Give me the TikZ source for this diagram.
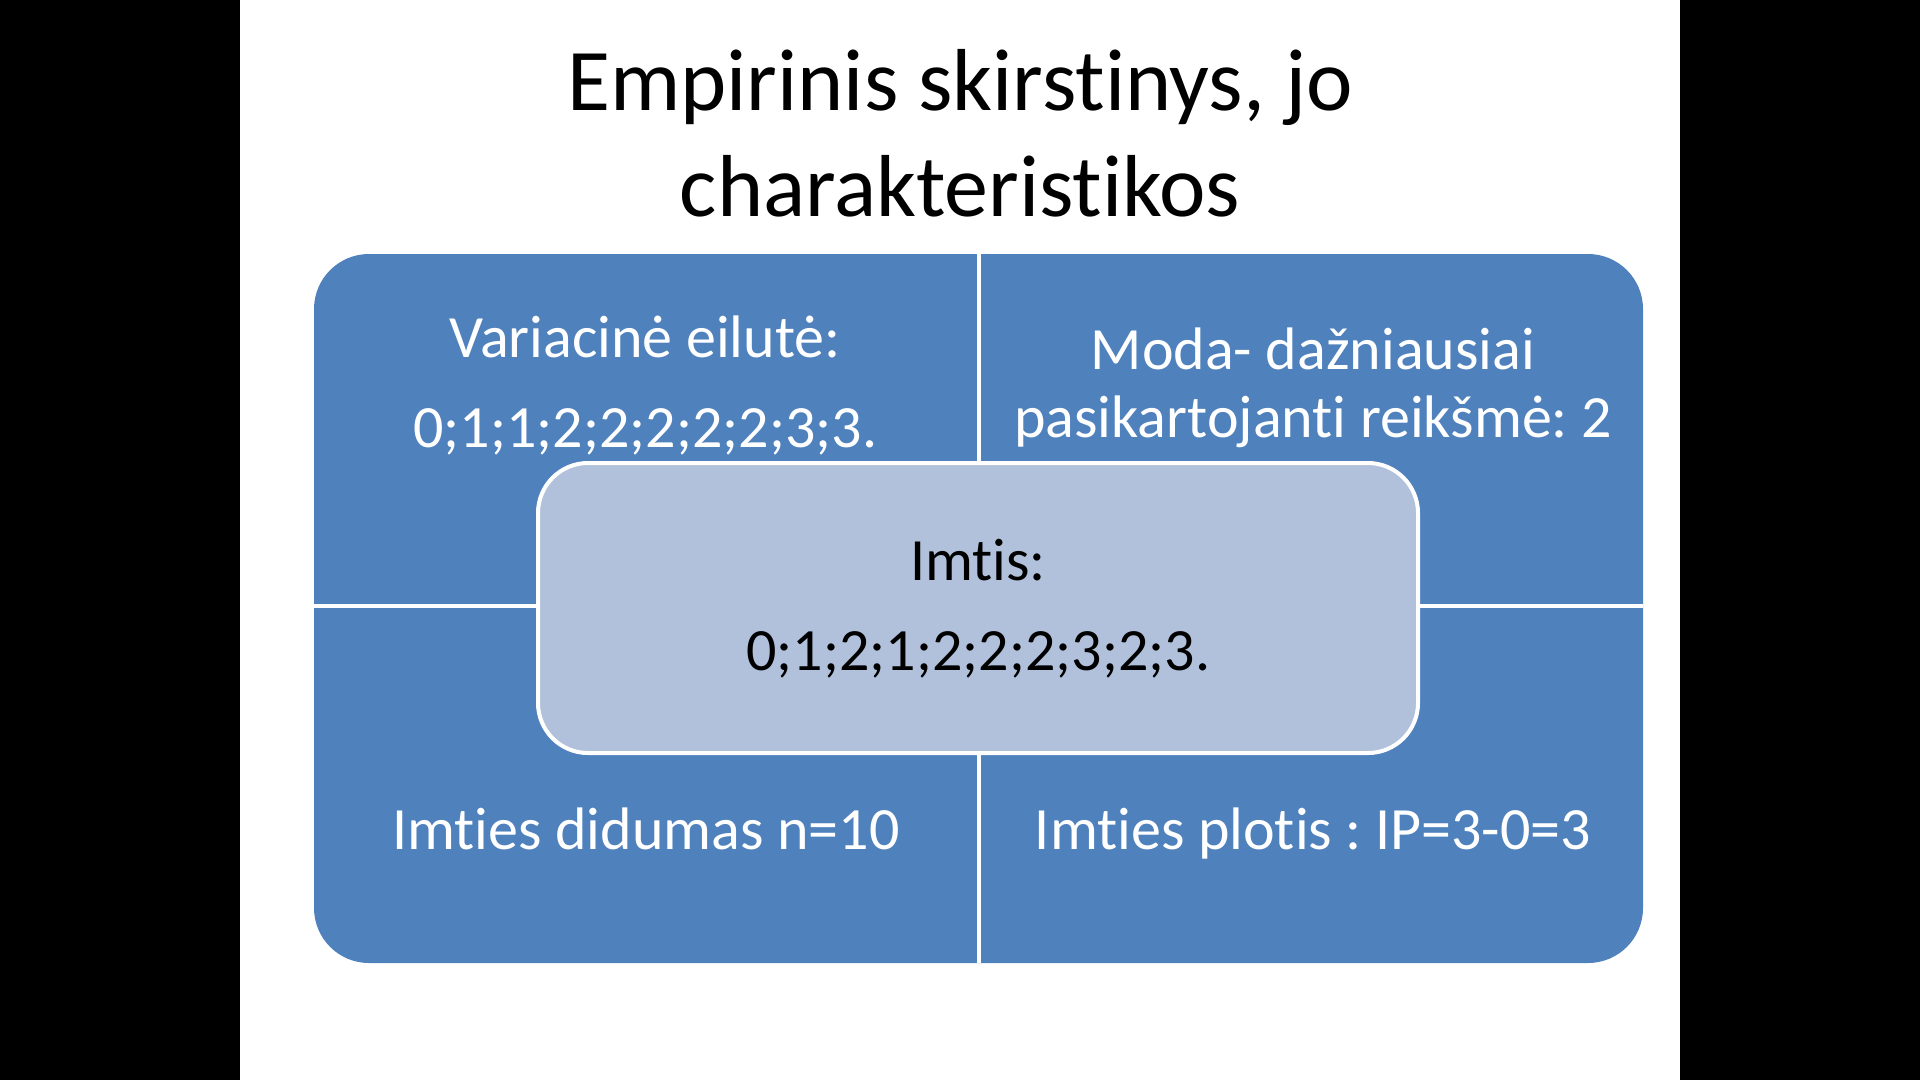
\documentclass[tikz,border=0pt]{standalone}
\usepackage{fontspec}
\setmainfont{Carlito}[Ligatures=NoCommon]
\frenchspacing

\definecolor{panelblue}{HTML}{4F81BD}
\definecolor{imtisfill}{HTML}{B1C1DB}

\tikzset{
	titletext/.style={anchor=base, inner sep=0pt, text=black,
		font=\fontsize{88}{106}\selectfont},
	bodytext/.style={anchor=base, inner sep=0pt, text=white,
		font=\fontsize{60}{73}\selectfont},
	imtisbox/.style={draw=white, line width=4pt, fill=imtisfill,
		rounded corners=50pt, minimum width=880pt, minimum height=290pt,
		inner sep=0pt},
}

\begin{document}
\begin{tikzpicture}[x=1pt, y=-1pt]
	\useasboundingbox (0,0) rectangle (1920,1080);
	\fill[black] (0,0) rectangle (240,1080);
	\fill[black] (1680,0) rectangle (1920,1080);

	\node[titletext] (title1) at (960,110) {Empirinis skirstinys, jo};
	\node[titletext] (title2) at (960,216) {charakteristikos};

	% four quarters
	\fill[panelblue, rounded corners=55pt] (314,254) rectangle (1643,963);
	\draw[white, line width=4pt] (979,254) -- (979,963);
	\draw[white, line width=4pt] (314,606) -- (1643,606);

	\node[bodytext] (var1) at (645,357) {Variacinė eilutė:};
	\node[bodytext] (var2) at (645,447) {0;1;1;2;2;2;2;2;3;3.};

	\node[bodytext] (moda1) at (1313,369) {Moda- dažniausiai};
	\node[bodytext] (moda2) at (1313,437) {pasikartojanti reikšmė: 2};

	\node[bodytext] (didumas) at (646,849) {Imties didumas n=10};
	\node[bodytext] (plotis) at (1313,849) {Imties plotis : IP=3-0=3};

	% sample in the middle
	\node[imtisbox] (imtis) at (978,608) {};
	\node[bodytext, text=black] (imtis1) at (978,580) {Imtis:};
	\node[bodytext, text=black] (imtis2) at (978,670) {0;1;2;1;2;2;2;3;2;3.};
\end{tikzpicture}
\end{document}
